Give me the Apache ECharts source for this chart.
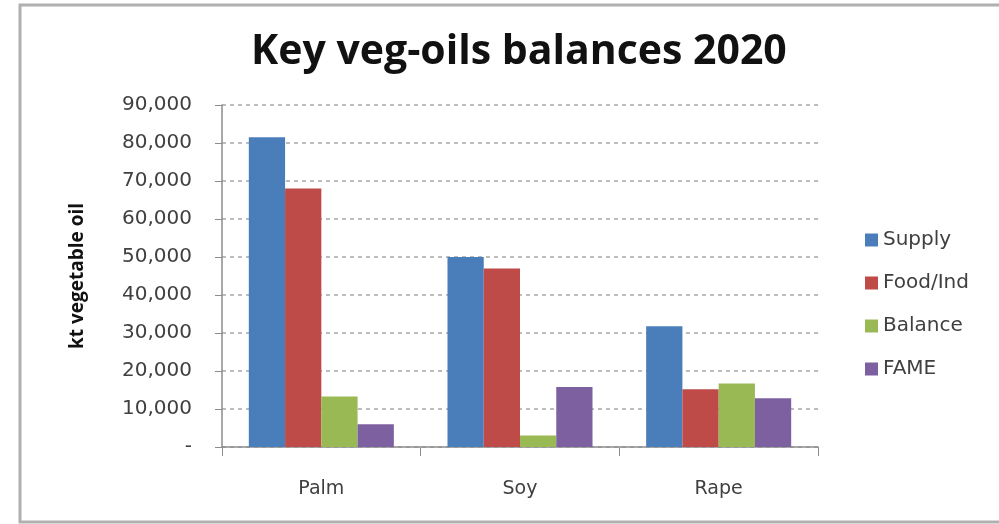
<!DOCTYPE html>
<html>
<head>
<meta charset="utf-8">
<script src="https://cdn.jsdelivr.net/npm/echarts@6/dist/echarts.min.js"></script>
<style>
  html, body { margin: 0; padding: 0; background: #fff; }
  #main { width: 999px; height: 524px; }
</style>
</head>
<body>
<div id="main"></div>
<script>
  // data
  var categories = ['Palm', 'Soy', 'Rape'];
  var supply = [81500, 50000, 31800];
  var foodInd = [68000, 47000, 15200];
  var balance = [13300, 3000, 16700];
  var fame = [6000, 15800, 12800];

  var chart = echarts.init(document.getElementById('main'));

  var font = '"Open Sans", "Liberation Sans", sans-serif';
  var wideFont = '"DejaVu Sans", "Open Sans", sans-serif';

  function bar(name, data, color) {
    return {
      name: name,
      type: 'bar',
      data: data,
      barGap: 0,
      barCategoryGap: '27%',
      itemStyle: { color: color }
    };
  }

  var option = {
    animation: false,
    backgroundColor: '#fff',
    // 外框
    graphic: [{
      type: 'rect',
      shape: { x: 20, y: 5, width: 990, height: 517 },
      style: { fill: 'none', stroke: '#b0b0b0', lineWidth: 3 },
      silent: true
    }],
    title: {
      text: 'Key veg-oils balances 2020',
      left: 246,
      top: 27,
      textStyle: {
        fontFamily: font,
        fontSize: 41,
        fontWeight: 'bold',
        color: '#111'
      }
    },
    legend: {
      orient: 'vertical',
      left: 860,
      top: 225,
      itemWidth: 13,
      itemHeight: 13,
      itemGap: 23,
      icon: 'rect',
      textStyle: { fontFamily: wideFont, fontSize: 20, color: '#404040' },
      data: ['Supply', 'Food/Ind', 'Balance', 'FAME']
    },
    grid: {
      left: 222,
      right: 181,
      top: 105,
      bottom: 77
    },
    xAxis: {
      type: 'category',
      data: categories,
      axisLine: { lineStyle: { color: '#8c8c8c', width: 1.5 } },
      axisTick: { show: true, length: 9, lineStyle: { color: '#8c8c8c' } },
      axisLabel: {
        margin: 33,
        fontFamily: wideFont,
        fontSize: 19,
        color: '#404040'
      }
    },
    yAxis: {
      type: 'value',
      min: 0,
      max: 90000,
      interval: 10000,
      name: 'kt vegetable oil',
      nameLocation: 'middle',
      nameGap: 135,
      nameTextStyle: {
        fontFamily: font,
        fontSize: 19,
        fontWeight: 'bold',
        color: '#111'
      },
      axisLine: { show: true, lineStyle: { color: '#8c8c8c', width: 1.5 } },
      axisTick: { show: true, inside: false, length: 7, lineStyle: { color: '#8c8c8c' } },
      axisLabel: {
        margin: 30,
        fontFamily: wideFont,
        fontSize: 20,
        color: '#404040',
        formatter: function (v) {
          return v === 0 ? '-' : v.toLocaleString('en-US');
        }
      },
      splitLine: {
        show: true,
        lineStyle: { color: '#a6a6a6', type: [4, 4], width: 1.5 }
      }
    },
    series: [
      bar('Supply', supply, '#4a7ebb'),
      bar('Food/Ind', foodInd, '#be4b48'),
      bar('Balance', balance, '#98b954'),
      bar('FAME', fame, '#7d60a0')
    ]
  };
  chart.setOption(option);
</script>
</body>
</html>
